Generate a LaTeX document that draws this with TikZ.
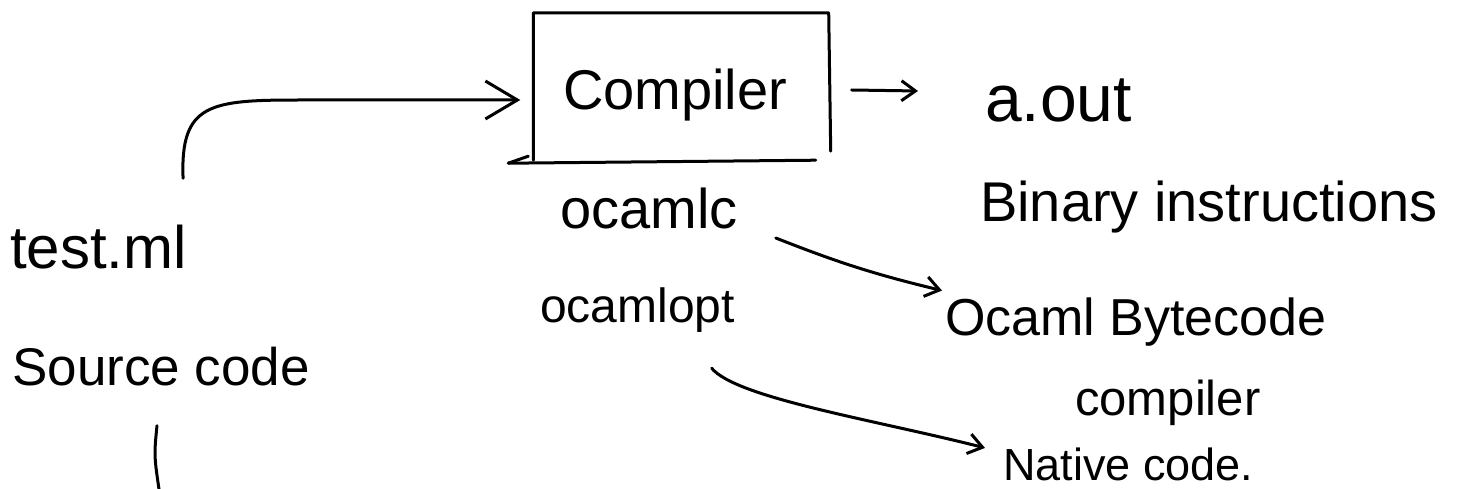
\documentclass[tikz,border=0pt]{standalone}
\usepackage{fontspec}
\setmainfont{Liberation Sans}
\usetikzlibrary{arrows.meta}
\begin{document}
\begin{tikzpicture}[x=1pt,y=-1pt,
  pen/.style={draw=black, line width=3pt, line cap=round, line join=round},
  lbl/.style={inner sep=0pt, anchor=base west},
  bigarrow/.style={pen, -{Straight Barb[length=32pt,width=38pt,line width=3pt]}},
  smallarrow/.style={pen, -{Straight Barb[length=14pt,width=20pt,line width=3pt]}}]
\useasboundingbox (0,0) rectangle (1458,489);
% compiler box
\node[minimum width=297pt, minimum height=146pt, inner sep=0pt] (box) at (682,86) {};
\draw[pen] ([yshift=-1pt]box.south west) -- (box.north west) -- ([xshift=-2pt]box.north east) -- ([yshift=8pt]box.south east);
\draw[pen] ([shift={(-25pt,-4pt)}]box.south west) -- ([shift={(-15pt,-1pt)}]box.south east);
\draw[pen] ([shift={(-25pt,-4pt)}]box.south west) -- ([shift={(-5pt,3pt)}]box.south west);
\node[lbl, font=\fontsize{56}{60}\selectfont] (comp) at (563,110) {Compiler};
% texts
\node[lbl, font=\fontsize{60}{66}\selectfont] (test) at (10,268) {test.ml};
\node[lbl, font=\fontsize{53}{60}\selectfont] (src) at (12,385) {Source code};
\node[lbl, font=\fontsize{66}{70}\selectfont] (aout) at (985,122) {a.out};
\node[lbl, font=\fontsize{56}{62}\selectfont] (bin) at (980,222) {Binary instructions};
\node[lbl, font=\fontsize{56}{62}\selectfont] (ocamlc) at (560,228) {ocamlc};
\node[lbl, font=\fontsize{48}{54}\selectfont] (ocamlopt) at (540,322) {ocamlopt};
\node[lbl, font=\fontsize{52}{58}\selectfont] (byte) at (945,335) {Ocaml Bytecode};
\node[lbl, font=\fontsize{49}{55}\selectfont] (bcomp) at (1075,415) {compiler};
\node[lbl, font=\fontsize{45}{50}\selectfont] (native) at (1003,480) {Native code.};
% connectors
\draw[bigarrow] ([shift={(-4pt,46pt)}]test.north east) .. controls +(-3,-75) and +(-90,0) .. (300,100) -- ([shift={(-13pt,-14pt)}]box.west);
\draw[smallarrow] ([shift={(21pt,-4pt)}]box.east) -- ([shift={(-67pt,10pt)}]aout.west);
\draw[smallarrow] ([shift={(38pt,-30pt)}]ocamlc.east) to[bend right=4] ([shift={(-3pt,31pt)}]byte.west);
\draw[smallarrow] ([shift={(74pt,-36pt)}]ocamlopt.south) .. controls +(25,30) and +(-110,-28) .. ([shift={(-18pt,16pt)}]native.west);
\draw[pen] ([shift={(-4pt,-40pt)}]src.south) .. controls +(-3,30) .. ([shift={(-1pt,-110pt)}]src.south);
\end{tikzpicture}
\end{document}
